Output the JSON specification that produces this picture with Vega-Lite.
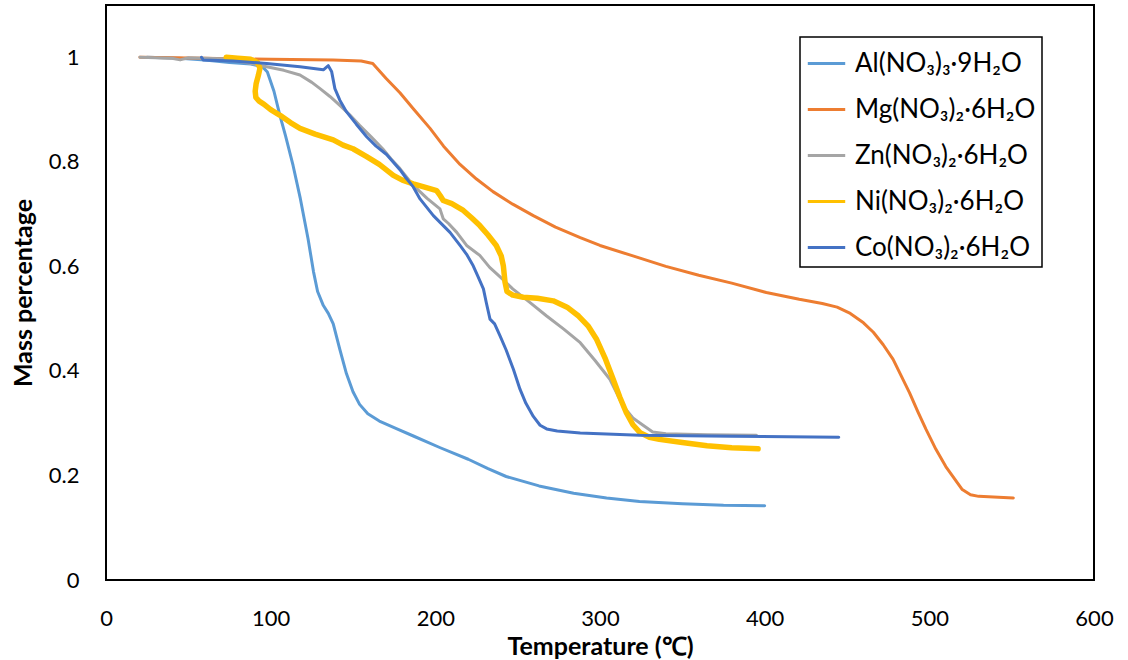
{
  "$schema": "https://vega.github.io/schema/vega-lite/v6.json",
  "width": 988,
  "height": 575,
  "autosize": {"type": "none"},
  "padding": {"left": 106, "top": 5, "right": 34, "bottom": 80},
  "background": "white",
  "config": {
    "view": {"stroke": "black", "strokeWidth": 2},
    "font": "Lato",
    "axis": {"labelColor": "black", "titleColor": "black", "labelFont": "Lato", "titleFont": "Lato"},
    "legend": {"strokeWidth": 1.5}
  },
  "datasets": {
    "tga": [
      {"s": "Al(NO₃)₃·9H₂O", "t": 25, "m": 1.0},
      {"s": "Al(NO₃)₃·9H₂O", "t": 45, "m": 0.998},
      {"s": "Al(NO₃)₃·9H₂O", "t": 60, "m": 0.995},
      {"s": "Al(NO₃)₃·9H₂O", "t": 75, "m": 0.99},
      {"s": "Al(NO₃)₃·9H₂O", "t": 88, "m": 0.987},
      {"s": "Al(NO₃)₃·9H₂O", "t": 95, "m": 0.982},
      {"s": "Al(NO₃)₃·9H₂O", "t": 98, "m": 0.972},
      {"s": "Al(NO₃)₃·9H₂O", "t": 102, "m": 0.935},
      {"s": "Al(NO₃)₃·9H₂O", "t": 105.6, "m": 0.889},
      {"s": "Al(NO₃)₃·9H₂O", "t": 109, "m": 0.85},
      {"s": "Al(NO₃)₃·9H₂O", "t": 113.6, "m": 0.793},
      {"s": "Al(NO₃)₃·9H₂O", "t": 118, "m": 0.73},
      {"s": "Al(NO₃)₃·9H₂O", "t": 122.7, "m": 0.653},
      {"s": "Al(NO₃)₃·9H₂O", "t": 126, "m": 0.59},
      {"s": "Al(NO₃)₃·9H₂O", "t": 128.5, "m": 0.552},
      {"s": "Al(NO₃)₃·9H₂O", "t": 132, "m": 0.525},
      {"s": "Al(NO₃)₃·9H₂O", "t": 135, "m": 0.51},
      {"s": "Al(NO₃)₃·9H₂O", "t": 138, "m": 0.49},
      {"s": "Al(NO₃)₃·9H₂O", "t": 142, "m": 0.441},
      {"s": "Al(NO₃)₃·9H₂O", "t": 146, "m": 0.395},
      {"s": "Al(NO₃)₃·9H₂O", "t": 150, "m": 0.36},
      {"s": "Al(NO₃)₃·9H₂O", "t": 154, "m": 0.336},
      {"s": "Al(NO₃)₃·9H₂O", "t": 159, "m": 0.318},
      {"s": "Al(NO₃)₃·9H₂O", "t": 166, "m": 0.304},
      {"s": "Al(NO₃)₃·9H₂O", "t": 176, "m": 0.29},
      {"s": "Al(NO₃)₃·9H₂O", "t": 187, "m": 0.275},
      {"s": "Al(NO₃)₃·9H₂O", "t": 203, "m": 0.253},
      {"s": "Al(NO₃)₃·9H₂O", "t": 220, "m": 0.231},
      {"s": "Al(NO₃)₃·9H₂O", "t": 232, "m": 0.213},
      {"s": "Al(NO₃)₃·9H₂O", "t": 243, "m": 0.198},
      {"s": "Al(NO₃)₃·9H₂O", "t": 263, "m": 0.18},
      {"s": "Al(NO₃)₃·9H₂O", "t": 284, "m": 0.166},
      {"s": "Al(NO₃)₃·9H₂O", "t": 304, "m": 0.157},
      {"s": "Al(NO₃)₃·9H₂O", "t": 324, "m": 0.15},
      {"s": "Al(NO₃)₃·9H₂O", "t": 350, "m": 0.146},
      {"s": "Al(NO₃)₃·9H₂O", "t": 375, "m": 0.143},
      {"s": "Al(NO₃)₃·9H₂O", "t": 400, "m": 0.142},

      {"s": "Mg(NO₃)₂·6H₂O", "t": 20.6, "m": 1.0},
      {"s": "Mg(NO₃)₂·6H₂O", "t": 60, "m": 0.998},
      {"s": "Mg(NO₃)₂·6H₂O", "t": 100, "m": 0.996},
      {"s": "Mg(NO₃)₂·6H₂O", "t": 138, "m": 0.995},
      {"s": "Mg(NO₃)₂·6H₂O", "t": 155, "m": 0.993},
      {"s": "Mg(NO₃)₂·6H₂O", "t": 162, "m": 0.988},
      {"s": "Mg(NO₃)₂·6H₂O", "t": 170, "m": 0.96},
      {"s": "Mg(NO₃)₂·6H₂O", "t": 178.5, "m": 0.932},
      {"s": "Mg(NO₃)₂·6H₂O", "t": 187, "m": 0.9},
      {"s": "Mg(NO₃)₂·6H₂O", "t": 196.8, "m": 0.864},
      {"s": "Mg(NO₃)₂·6H₂O", "t": 205, "m": 0.83},
      {"s": "Mg(NO₃)₂·6H₂O", "t": 215, "m": 0.795},
      {"s": "Mg(NO₃)₂·6H₂O", "t": 225, "m": 0.767},
      {"s": "Mg(NO₃)₂·6H₂O", "t": 235, "m": 0.743},
      {"s": "Mg(NO₃)₂·6H₂O", "t": 247, "m": 0.719},
      {"s": "Mg(NO₃)₂·6H₂O", "t": 259.5, "m": 0.697},
      {"s": "Mg(NO₃)₂·6H₂O", "t": 273, "m": 0.675},
      {"s": "Mg(NO₃)₂·6H₂O", "t": 288, "m": 0.655},
      {"s": "Mg(NO₃)₂·6H₂O", "t": 300, "m": 0.64},
      {"s": "Mg(NO₃)₂·6H₂O", "t": 320, "m": 0.62},
      {"s": "Mg(NO₃)₂·6H₂O", "t": 340, "m": 0.6},
      {"s": "Mg(NO₃)₂·6H₂O", "t": 360, "m": 0.583},
      {"s": "Mg(NO₃)₂·6H₂O", "t": 380, "m": 0.568},
      {"s": "Mg(NO₃)₂·6H₂O", "t": 401, "m": 0.55},
      {"s": "Mg(NO₃)₂·6H₂O", "t": 421, "m": 0.537},
      {"s": "Mg(NO₃)₂·6H₂O", "t": 435, "m": 0.529},
      {"s": "Mg(NO₃)₂·6H₂O", "t": 444, "m": 0.522},
      {"s": "Mg(NO₃)₂·6H₂O", "t": 452, "m": 0.51},
      {"s": "Mg(NO₃)₂·6H₂O", "t": 460, "m": 0.492},
      {"s": "Mg(NO₃)₂·6H₂O", "t": 466, "m": 0.474},
      {"s": "Mg(NO₃)₂·6H₂O", "t": 472, "m": 0.45},
      {"s": "Mg(NO₃)₂·6H₂O", "t": 478, "m": 0.422},
      {"s": "Mg(NO₃)₂·6H₂O", "t": 483, "m": 0.39},
      {"s": "Mg(NO₃)₂·6H₂O", "t": 488, "m": 0.358},
      {"s": "Mg(NO₃)₂·6H₂O", "t": 493, "m": 0.322},
      {"s": "Mg(NO₃)₂·6H₂O", "t": 498, "m": 0.288},
      {"s": "Mg(NO₃)₂·6H₂O", "t": 504, "m": 0.25},
      {"s": "Mg(NO₃)₂·6H₂O", "t": 510, "m": 0.217},
      {"s": "Mg(NO₃)₂·6H₂O", "t": 515, "m": 0.195},
      {"s": "Mg(NO₃)₂·6H₂O", "t": 520, "m": 0.173},
      {"s": "Mg(NO₃)₂·6H₂O", "t": 525, "m": 0.163},
      {"s": "Mg(NO₃)₂·6H₂O", "t": 530, "m": 0.16},
      {"s": "Mg(NO₃)₂·6H₂O", "t": 551, "m": 0.157},

      {"s": "Zn(NO₃)₂·6H₂O", "t": 20.6, "m": 1.0},
      {"s": "Zn(NO₃)₂·6H₂O", "t": 40, "m": 0.998},
      {"s": "Zn(NO₃)₂·6H₂O", "t": 45, "m": 0.995},
      {"s": "Zn(NO₃)₂·6H₂O", "t": 50, "m": 0.999},
      {"s": "Zn(NO₃)₂·6H₂O", "t": 70, "m": 0.997},
      {"s": "Zn(NO₃)₂·6H₂O", "t": 85, "m": 0.99},
      {"s": "Zn(NO₃)₂·6H₂O", "t": 97.6, "m": 0.982},
      {"s": "Zn(NO₃)₂·6H₂O", "t": 108, "m": 0.975},
      {"s": "Zn(NO₃)₂·6H₂O", "t": 117.8, "m": 0.966},
      {"s": "Zn(NO₃)₂·6H₂O", "t": 125, "m": 0.952},
      {"s": "Zn(NO₃)₂·6H₂O", "t": 130, "m": 0.94},
      {"s": "Zn(NO₃)₂·6H₂O", "t": 136, "m": 0.925},
      {"s": "Zn(NO₃)₂·6H₂O", "t": 142, "m": 0.908},
      {"s": "Zn(NO₃)₂·6H₂O", "t": 148, "m": 0.89},
      {"s": "Zn(NO₃)₂·6H₂O", "t": 154, "m": 0.87},
      {"s": "Zn(NO₃)₂·6H₂O", "t": 161, "m": 0.848},
      {"s": "Zn(NO₃)₂·6H₂O", "t": 168, "m": 0.825},
      {"s": "Zn(NO₃)₂·6H₂O", "t": 173, "m": 0.806},
      {"s": "Zn(NO₃)₂·6H₂O", "t": 178.5, "m": 0.787},
      {"s": "Zn(NO₃)₂·6H₂O", "t": 186.6, "m": 0.755},
      {"s": "Zn(NO₃)₂·6H₂O", "t": 195, "m": 0.73},
      {"s": "Zn(NO₃)₂·6H₂O", "t": 202.8, "m": 0.71},
      {"s": "Zn(NO₃)₂·6H₂O", "t": 204.8, "m": 0.691},
      {"s": "Zn(NO₃)₂·6H₂O", "t": 208, "m": 0.682},
      {"s": "Zn(NO₃)₂·6H₂O", "t": 213, "m": 0.665},
      {"s": "Zn(NO₃)₂·6H₂O", "t": 219, "m": 0.64},
      {"s": "Zn(NO₃)₂·6H₂O", "t": 227, "m": 0.621},
      {"s": "Zn(NO₃)₂·6H₂O", "t": 233, "m": 0.598},
      {"s": "Zn(NO₃)₂·6H₂O", "t": 240, "m": 0.578},
      {"s": "Zn(NO₃)₂·6H₂O", "t": 247, "m": 0.557},
      {"s": "Zn(NO₃)₂·6H₂O", "t": 257, "m": 0.532},
      {"s": "Zn(NO₃)₂·6H₂O", "t": 267.6, "m": 0.505},
      {"s": "Zn(NO₃)₂·6H₂O", "t": 278, "m": 0.48},
      {"s": "Zn(NO₃)₂·6H₂O", "t": 288, "m": 0.454},
      {"s": "Zn(NO₃)₂·6H₂O", "t": 297, "m": 0.42},
      {"s": "Zn(NO₃)₂·6H₂O", "t": 306, "m": 0.384},
      {"s": "Zn(NO₃)₂·6H₂O", "t": 314, "m": 0.333},
      {"s": "Zn(NO₃)₂·6H₂O", "t": 320, "m": 0.31},
      {"s": "Zn(NO₃)₂·6H₂O", "t": 324, "m": 0.301},
      {"s": "Zn(NO₃)₂·6H₂O", "t": 332, "m": 0.283},
      {"s": "Zn(NO₃)₂·6H₂O", "t": 340, "m": 0.28},
      {"s": "Zn(NO₃)₂·6H₂O", "t": 365, "m": 0.278},
      {"s": "Zn(NO₃)₂·6H₂O", "t": 395, "m": 0.277},

      {"s": "Ni(NO₃)₂·6H₂O", "t": 73, "m": 1.0},
      {"s": "Ni(NO₃)₂·6H₂O", "t": 80, "m": 0.998},
      {"s": "Ni(NO₃)₂·6H₂O", "t": 88, "m": 0.996},
      {"s": "Ni(NO₃)₂·6H₂O", "t": 92, "m": 0.99},
      {"s": "Ni(NO₃)₂·6H₂O", "t": 93.5, "m": 0.979},
      {"s": "Ni(NO₃)₂·6H₂O", "t": 92.5, "m": 0.965},
      {"s": "Ni(NO₃)₂·6H₂O", "t": 91.2, "m": 0.95},
      {"s": "Ni(NO₃)₂·6H₂O", "t": 90.6, "m": 0.935},
      {"s": "Ni(NO₃)₂·6H₂O", "t": 91, "m": 0.923},
      {"s": "Ni(NO₃)₂·6H₂O", "t": 93, "m": 0.916},
      {"s": "Ni(NO₃)₂·6H₂O", "t": 96, "m": 0.91},
      {"s": "Ni(NO₃)₂·6H₂O", "t": 100, "m": 0.9},
      {"s": "Ni(NO₃)₂·6H₂O", "t": 105.7, "m": 0.889},
      {"s": "Ni(NO₃)₂·6H₂O", "t": 112, "m": 0.875},
      {"s": "Ni(NO₃)₂·6H₂O", "t": 117.8, "m": 0.864},
      {"s": "Ni(NO₃)₂·6H₂O", "t": 127, "m": 0.853},
      {"s": "Ni(NO₃)₂·6H₂O", "t": 138, "m": 0.842},
      {"s": "Ni(NO₃)₂·6H₂O", "t": 144, "m": 0.832},
      {"s": "Ni(NO₃)₂·6H₂O", "t": 150, "m": 0.825},
      {"s": "Ni(NO₃)₂·6H₂O", "t": 158.3, "m": 0.81},
      {"s": "Ni(NO₃)₂·6H₂O", "t": 166, "m": 0.795},
      {"s": "Ni(NO₃)₂·6H₂O", "t": 174.5, "m": 0.774},
      {"s": "Ni(NO₃)₂·6H₂O", "t": 180, "m": 0.765},
      {"s": "Ni(NO₃)₂·6H₂O", "t": 186.6, "m": 0.758},
      {"s": "Ni(NO₃)₂·6H₂O", "t": 193, "m": 0.752},
      {"s": "Ni(NO₃)₂·6H₂O", "t": 200.8, "m": 0.745},
      {"s": "Ni(NO₃)₂·6H₂O", "t": 203, "m": 0.735},
      {"s": "Ni(NO₃)₂·6H₂O", "t": 204.8, "m": 0.726},
      {"s": "Ni(NO₃)₂·6H₂O", "t": 210, "m": 0.72},
      {"s": "Ni(NO₃)₂·6H₂O", "t": 217, "m": 0.707},
      {"s": "Ni(NO₃)₂·6H₂O", "t": 222, "m": 0.693},
      {"s": "Ni(NO₃)₂·6H₂O", "t": 227, "m": 0.678},
      {"s": "Ni(NO₃)₂·6H₂O", "t": 232, "m": 0.66},
      {"s": "Ni(NO₃)₂·6H₂O", "t": 237, "m": 0.64},
      {"s": "Ni(NO₃)₂·6H₂O", "t": 240, "m": 0.62},
      {"s": "Ni(NO₃)₂·6H₂O", "t": 241.3, "m": 0.601},
      {"s": "Ni(NO₃)₂·6H₂O", "t": 242.3, "m": 0.57},
      {"s": "Ni(NO₃)₂·6H₂O", "t": 243.5, "m": 0.552},
      {"s": "Ni(NO₃)₂·6H₂O", "t": 247, "m": 0.545},
      {"s": "Ni(NO₃)₂·6H₂O", "t": 253.4, "m": 0.541},
      {"s": "Ni(NO₃)₂·6H₂O", "t": 262, "m": 0.539},
      {"s": "Ni(NO₃)₂·6H₂O", "t": 271.6, "m": 0.534},
      {"s": "Ni(NO₃)₂·6H₂O", "t": 280, "m": 0.522},
      {"s": "Ni(NO₃)₂·6H₂O", "t": 287, "m": 0.505},
      {"s": "Ni(NO₃)₂·6H₂O", "t": 293, "m": 0.485},
      {"s": "Ni(NO₃)₂·6H₂O", "t": 298, "m": 0.46},
      {"s": "Ni(NO₃)₂·6H₂O", "t": 303, "m": 0.425},
      {"s": "Ni(NO₃)₂·6H₂O", "t": 308, "m": 0.384},
      {"s": "Ni(NO₃)₂·6H₂O", "t": 312, "m": 0.35},
      {"s": "Ni(NO₃)₂·6H₂O", "t": 316, "m": 0.32},
      {"s": "Ni(NO₃)₂·6H₂O", "t": 320, "m": 0.297},
      {"s": "Ni(NO₃)₂·6H₂O", "t": 324.3, "m": 0.282},
      {"s": "Ni(NO₃)₂·6H₂O", "t": 330, "m": 0.273},
      {"s": "Ni(NO₃)₂·6H₂O", "t": 336, "m": 0.269},
      {"s": "Ni(NO₃)₂·6H₂O", "t": 350, "m": 0.263},
      {"s": "Ni(NO₃)₂·6H₂O", "t": 365, "m": 0.257},
      {"s": "Ni(NO₃)₂·6H₂O", "t": 380, "m": 0.253},
      {"s": "Ni(NO₃)₂·6H₂O", "t": 396, "m": 0.251},

      {"s": "Co(NO₃)₂·6H₂O", "t": 58, "m": 1.0},
      {"s": "Co(NO₃)₂·6H₂O", "t": 59, "m": 0.995},
      {"s": "Co(NO₃)₂·6H₂O", "t": 77, "m": 0.993},
      {"s": "Co(NO₃)₂·6H₂O", "t": 97.6, "m": 0.988},
      {"s": "Co(NO₃)₂·6H₂O", "t": 117.8, "m": 0.982},
      {"s": "Co(NO₃)₂·6H₂O", "t": 132, "m": 0.976},
      {"s": "Co(NO₃)₂·6H₂O", "t": 135, "m": 0.984},
      {"s": "Co(NO₃)₂·6H₂O", "t": 137, "m": 0.973},
      {"s": "Co(NO₃)₂·6H₂O", "t": 139, "m": 0.94},
      {"s": "Co(NO₃)₂·6H₂O", "t": 142, "m": 0.918},
      {"s": "Co(NO₃)₂·6H₂O", "t": 146, "m": 0.896},
      {"s": "Co(NO₃)₂·6H₂O", "t": 152, "m": 0.872},
      {"s": "Co(NO₃)₂·6H₂O", "t": 158.3, "m": 0.848},
      {"s": "Co(NO₃)₂·6H₂O", "t": 164, "m": 0.83},
      {"s": "Co(NO₃)₂·6H₂O", "t": 170.4, "m": 0.814},
      {"s": "Co(NO₃)₂·6H₂O", "t": 178.5, "m": 0.785},
      {"s": "Co(NO₃)₂·6H₂O", "t": 182, "m": 0.77},
      {"s": "Co(NO₃)₂·6H₂O", "t": 186.6, "m": 0.752},
      {"s": "Co(NO₃)₂·6H₂O", "t": 190.7, "m": 0.729},
      {"s": "Co(NO₃)₂·6H₂O", "t": 198.8, "m": 0.697},
      {"s": "Co(NO₃)₂·6H₂O", "t": 208.9, "m": 0.665},
      {"s": "Co(NO₃)₂·6H₂O", "t": 215, "m": 0.64},
      {"s": "Co(NO₃)₂·6H₂O", "t": 219, "m": 0.623},
      {"s": "Co(NO₃)₂·6H₂O", "t": 223, "m": 0.601},
      {"s": "Co(NO₃)₂·6H₂O", "t": 226, "m": 0.58},
      {"s": "Co(NO₃)₂·6H₂O", "t": 229.2, "m": 0.557},
      {"s": "Co(NO₃)₂·6H₂O", "t": 231, "m": 0.53},
      {"s": "Co(NO₃)₂·6H₂O", "t": 233.2, "m": 0.499},
      {"s": "Co(NO₃)₂·6H₂O", "t": 236, "m": 0.49},
      {"s": "Co(NO₃)₂·6H₂O", "t": 239.3, "m": 0.467},
      {"s": "Co(NO₃)₂·6H₂O", "t": 243, "m": 0.44},
      {"s": "Co(NO₃)₂·6H₂O", "t": 247.4, "m": 0.403},
      {"s": "Co(NO₃)₂·6H₂O", "t": 251.4, "m": 0.365},
      {"s": "Co(NO₃)₂·6H₂O", "t": 255, "m": 0.338},
      {"s": "Co(NO₃)₂·6H₂O", "t": 259.5, "m": 0.313},
      {"s": "Co(NO₃)₂·6H₂O", "t": 263.6, "m": 0.296},
      {"s": "Co(NO₃)₂·6H₂O", "t": 267.6, "m": 0.289},
      {"s": "Co(NO₃)₂·6H₂O", "t": 274, "m": 0.285},
      {"s": "Co(NO₃)₂·6H₂O", "t": 288, "m": 0.281},
      {"s": "Co(NO₃)₂·6H₂O", "t": 324, "m": 0.277},
      {"s": "Co(NO₃)₂·6H₂O", "t": 380, "m": 0.275},
      {"s": "Co(NO₃)₂·6H₂O", "t": 445, "m": 0.273}
    ]
  },
  "data": {"name": "tga"},
  "mark": {"type": "line", "strokeCap": "round", "strokeJoin": "round"},
  "encoding": {
    "x": {
      "field": "t",
      "type": "quantitative",
      "scale": {"domain": [0, 600], "nice": false, "zero": false},
      "axis": {
        "values": [0, 100, 200, 300, 400, 500, 600],
        "title": "Temperature (℃)",
        "grid": false,
        "domain": false,
        "ticks": false,
        "labelFlush": false,
        "labelFontSize": 22,
        "labelPadding": 28,
        "titleFontSize": 25,
        "titleFontWeight": "bold",
        "titlePadding": 5
      }
    },
    "y": {
      "field": "m",
      "type": "quantitative",
      "scale": {"domain": [0, 1.1], "nice": false, "zero": false},
      "axis": {
        "values": [0, 0.2, 0.4, 0.6, 0.8, 1],
        "labelExpr": "format(datum.value, '~g')",
        "title": "Mass percentage",
        "grid": false,
        "domain": false,
        "ticks": false,
        "labelFlush": false,
        "labelFontSize": 22,
        "labelPadding": 27,
        "titleFontSize": 25,
        "titleFontWeight": "bold",
        "titlePadding": 12
      }
    },
    "color": {
      "field": "s",
      "type": "nominal",
      "scale": {
        "domain": ["Al(NO₃)₃·9H₂O", "Mg(NO₃)₂·6H₂O", "Zn(NO₃)₂·6H₂O", "Ni(NO₃)₂·6H₂O", "Co(NO₃)₂·6H₂O"],
        "range": ["#5B9BD5", "#ED7D31", "#A5A5A5", "#FFC000", "#4472C4"]
      },
      "legend": {
        "title": null,
        "orient": "none",
        "legendX": 694,
        "legendY": 32,
        "strokeColor": "black",
        "padding": 6,
        "labelFontSize": 26,
        "labelFont": "Lato",
        "labelColor": "black",
        "labelOffset": 8,
        "labelLimit": 400,
        "symbolType": "stroke",
        "symbolSize": 1400,
        "symbolStrokeWidth": 3,
        "rowPadding": 12
      }
    },
    "strokeWidth": {
      "condition": {"test": "datum.s === 'Ni(NO₃)₂·6H₂O'", "value": 5.5},
      "value": 3
    },
    "order": {"value": null}
  }
}
